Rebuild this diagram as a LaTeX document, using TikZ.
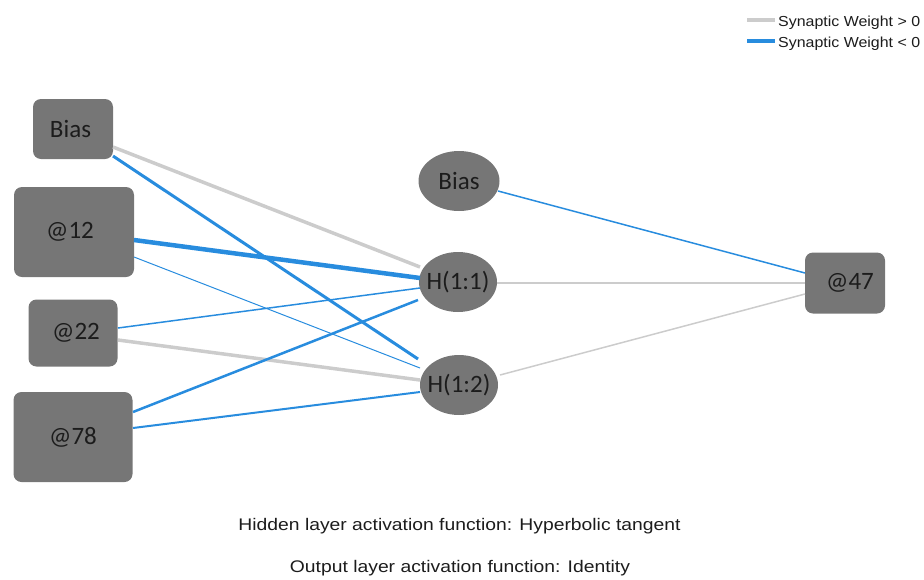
\documentclass[tikz,border=0pt]{standalone}
\usepackage{fontspec}
\usetikzlibrary{shapes.geometric}
\setmainfont{Liberation Sans}
\newfontfamily\nodefont{Carlito}
\newfontfamily\legfont[FakeStretch=1.1]{Liberation Sans}
\newfontfamily\capfont[FakeStretch=1.15]{Liberation Sans}
\definecolor{nodegray}{RGB}{118,118,118}
\definecolor{wpos}{RGB}{204,204,204}
\definecolor{wneg}{RGB}{40,140,222}
\definecolor{txt}{RGB}{28,28,28}
\begin{document}
\begin{tikzpicture}[x=1pt,y=-1pt,
  boxnode/.style={rectangle,rounded corners=8pt,fill=nodegray,inner sep=0pt,
    font=\nodefont\fontsize{25}{28}\selectfont,text=txt},
  ellnode/.style={ellipse,fill=nodegray,inner sep=0pt,
    font=\nodefont\fontsize{25}{28}\selectfont,text=txt},
  poswt/.style={draw=wpos,line cap=butt},
  negwt/.style={draw=wneg,line cap=butt},
  legtext/.style={anchor=base west,inner sep=0pt,font=\legfont\fontsize{14.5}{17}\selectfont,text=txt},
  captext/.style={anchor=base,inner sep=0pt,font=\capfont\fontsize{16.8}{20}\selectfont,text=txt}]
\useasboundingbox (0,0) rectangle (924,579);
% nodes
\node[boxnode,minimum width=80pt,minimum height=60pt] (ib) at (73,129) {\makebox[0pt]{\hspace{-5pt}Bias}};
\node[boxnode,minimum width=120pt,minimum height=90pt] (i12) at (74,232) {\makebox[0pt]{\hspace{-8pt}@12}};
\node[boxnode,minimum width=89pt,minimum height=67pt] (i22) at (73,333) {\makebox[0pt]{\hspace{6pt}@22}};
\node[boxnode,minimum width=119pt,minimum height=90pt] (i78) at (73,437) {@78};
\node[ellnode,minimum width=81pt,minimum height=60pt] (hb) at (459,181) {\makebox[0pt]{Bias}};
\node[ellnode,minimum width=78pt,minimum height=60pt] (h1) at (458,282) {\makebox[0pt]{H(1:1)}};
\node[ellnode,minimum width=78pt,minimum height=60pt] (h2) at (459,385) {\makebox[0pt]{H(1:2)}};
\node[boxnode,minimum width=80pt,minimum height=61pt] (o47) at (845,283) {\makebox[0pt]{\hspace{10pt}@47}};
% input -> hidden
\draw[poswt,line width=3.5pt] ([xshift=40pt,yshift=-18pt]ib.center) -- ([xshift=-38pt,yshift=15pt]h1.center);
\draw[negwt,line width=3pt] ([xshift=40pt,yshift=-27pt]ib.center) -- ([xshift=-41pt,yshift=26pt]h2.center);
\draw[negwt,line width=4.5pt] ([xshift=60pt,yshift=-8pt]i12.center) -- ([xshift=-38pt,yshift=4pt]h1.center);
\draw[negwt,line width=1pt] ([xshift=60pt,yshift=-25pt]i12.center) -- ([xshift=-39pt,yshift=17pt]h2.center);
\draw[negwt,line width=1.5pt] ([xshift=45pt,yshift=5pt]i22.center) -- ([xshift=-38pt,yshift=-6pt]h1.center);
\draw[poswt,line width=3.5pt] ([xshift=45pt,yshift=-7pt]i22.center) -- ([xshift=-39pt,yshift=5pt]h2.center);
\draw[negwt,line width=2.5pt] ([xshift=60pt,yshift=25pt]i78.center) -- ([xshift=-40pt,yshift=-18pt]h1.center);
\draw[negwt,line width=2pt] ([xshift=60pt,yshift=9pt]i78.center) -- ([xshift=-39pt,yshift=-7pt]h2.center);
% hidden -> output
\draw[negwt,line width=1.5pt] ([xshift=39pt,yshift=-10pt]hb.center) -- ([xshift=-40pt,yshift=10pt]o47.center);
\draw[poswt,line width=2.5pt] ([xshift=39pt,yshift=-1pt]h1.center) -- ([xshift=-40pt]o47.center);
\draw[poswt,line width=1.5pt] ([xshift=41pt,yshift=10pt]h2.center) -- ([xshift=-40pt,yshift=-11pt]o47.center);
% legend
\coordinate (lg1a) at (747,20);
\coordinate (lg1b) at (775,20);
\coordinate (lg2a) at (747,41);
\coordinate (lg2b) at (775,41);
\draw[poswt,line width=4pt] (lg1a) -- (lg1b);
\draw[negwt,line width=4pt] (lg2a) -- (lg2b);
\node[legtext] (lt1) at (778,26) {Synaptic Weight > 0};
\node[legtext] (lt2) at (778,47) {Synaptic Weight < 0};
% captions
\node[captext] (c1) at (459.5,530) {Hidden layer activation function: Hyperbolic tangent};
\node[captext] (c2) at (460,572) {Output layer activation function: Identity};
\end{tikzpicture}
\end{document}
